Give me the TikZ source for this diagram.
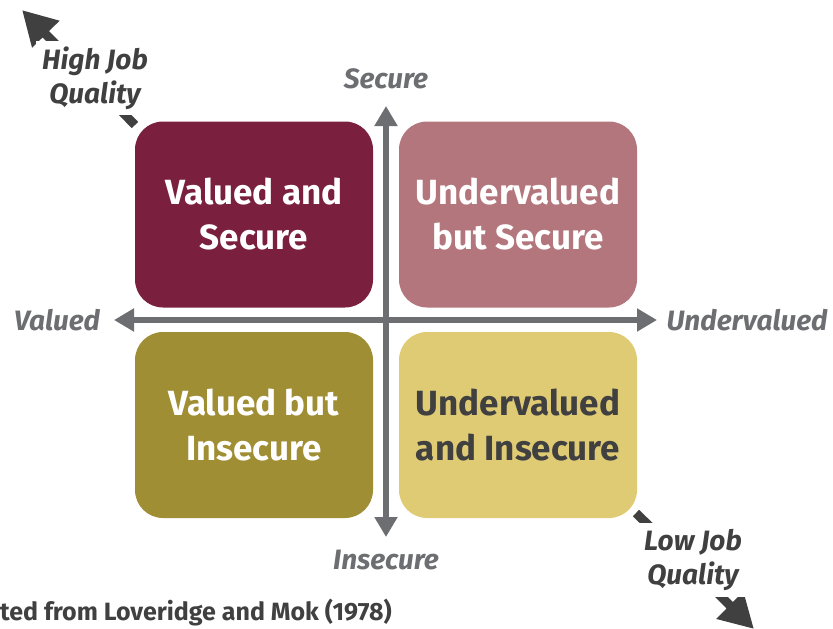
\documentclass[tikz,border=0pt]{standalone}
\usepackage{fontspec}
\setmainfont{Fira Sans}
\usetikzlibrary{arrows.meta}
\definecolor{axisgray}{HTML}{6D6E71}
\definecolor{darktext}{HTML}{404041}
\definecolor{wine}{HTML}{7A1F3D}
\definecolor{rose}{HTML}{B3767C}
\definecolor{olive}{HTML}{A08E34}
\definecolor{sand}{HTML}{E0CB75}
\tikzset{
  quadrant/.style={rounded corners=28pt, minimum width=238pt, minimum height=186pt,
                   align=center, font=\fontsize{35}{45}\selectfont\bfseries, text=white},
  axislabel/.style={font=\fontsize{28}{32}\selectfont\bfseries\itshape, text=axisgray},
  quality/.style={font=\fontsize{28}{34}\selectfont\bfseries\itshape, text=darktext,
                  align=center, fill=white, inner sep=6pt},
  axis/.style={draw=axisgray, line width=6pt, -{Triangle[length=20pt,width=22pt]}},
  diag/.style={draw=darktext, line width=9pt, -{Triangle[length=34pt,width=36pt]}}
}
\begin{document}
\begin{tikzpicture}[x=1pt,y=-1pt]
  \useasboundingbox (0,0) rectangle (833,629);

  % quality arrows (behind everything)
  \coordinate (hq) at (22,10);
  \coordinate (hqend) at (135,125);
  \coordinate (lq) at (754,629);
  \coordinate (lqend) at (636,513);
  \draw[diag] (hqend) -- (hq);
  \draw[diag] (lqend) -- (lq);

  % quadrants
  \node[quadrant, fill=wine]  (vs) at (254,214.5) {Valued and\\Secure};
  \node[quadrant, fill=rose]  (us) at (518,214.5) {Undervalued\\but Secure};
  \node[quadrant, fill=olive] (vi) at (254,425)   {Valued but\\Insecure};
  \node[quadrant, fill=sand, text=darktext] (ui) at (518,425) {Undervalued\\and Insecure};

  % axes
  \coordinate (top)    at (386,106);
  \coordinate (bottom) at (386,537);
  \coordinate (left)   at (114,320);
  \coordinate (right)  at (657,320);
  \draw[axis] (386,320) -- (top);
  \draw[axis] (386,320) -- (bottom);
  \draw[axis] (386,320) -- (left);
  \draw[axis] (386,320) -- (right);

  % axis labels
  \node[axislabel] (secure)   at (386,79)  {Secure};
  \node[axislabel] (insecure) at (386,560) {Insecure};
  \node[axislabel] (valued)   at (57,320)  {Valued};
  \node[axislabel] (underval) at (747,320) {Undervalued};

  % job quality labels
  \node[quality] (high) at (95,78)  {High Job\\Quality};
  \node[quality] (low)  at (693,560) {Low Job\\Quality};

  % source
  \node[anchor=east, font=\fontsize{25}{30}\selectfont\bfseries, text=darktext, inner sep=0pt]
       (source) at (392,613) {Adapted from Loveridge and Mok (1978)};
\end{tikzpicture}
\end{document}
